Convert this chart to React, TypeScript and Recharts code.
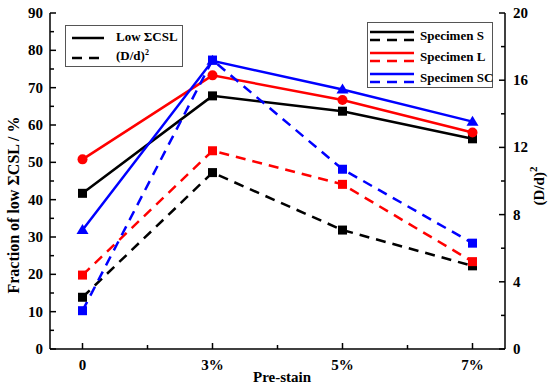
import React from 'react';
import { LineChart, Line, XAxis, YAxis } from 'recharts';

const strains = [0, 1, 2, 3];
const strainLabels = ['0', '3%', '5%', '7%'];
const xTicks = [0, 0.5, 1, 1.5, 2, 2.5, 3];
const leftTicks = [0, 5, 10, 15, 20, 25, 30, 35, 40, 45, 50, 55, 60, 65, 70, 75, 80, 85, 90];
const rightTicks = [0, 2, 4, 6, 8, 10, 12, 14, 16, 18, 20];

// fraction of low ΣCSL (%)
const cslS = [41.7, 67.8, 63.7, 56.3];
const cslL = [50.8, 73.3, 66.7, 58.0];
const cslSC = [31.9, 77.2, 69.5, 60.9];
// (D/d)^2
const ddS = [3.08, 10.5, 7.08, 4.95];
const ddL = [4.4, 11.8, 9.8, 5.2];
const ddSC = [2.28, 17.2, 10.7, 6.3];

const data = strains.map((x, i) => ({
  x,
  cslS: cslS[i],
  cslL: cslL[i],
  cslSC: cslSC[i],
  ddS: ddS[i],
  ddL: ddL[i],
  ddSC: ddSC[i],
}));

const W = 550;
const H = 387;
const AXIS_L = 50;
const AXIS_R = 505;
const TOP = 13;
const BOTTOM = 349;
const FONT = '"Liberation Serif", "Times New Roman", serif';
const BLUE = '#0000ff';
const RED = '#ff0000';
const DASH = '10 7';

const LeftTick = (props: any) => {
  const v = props.payload.value;
  const y = props.payload.coordinate;
  const major = v % 10 === 0;
  return (
    <g>
      <line x1={AXIS_L} x2={AXIS_L + (major ? 6 : 4)} y1={y} y2={y} stroke="#000" strokeWidth={1.5} />
      {major && (
        <text x={AXIS_L - 7} y={y + 5} textAnchor="end" fontSize={15} fontWeight="bold" fontFamily={FONT} fill="#000">
          {v}
        </text>
      )}
    </g>
  );
};

const RightTick = (props: any) => {
  const v = props.payload.value;
  const y = props.payload.coordinate;
  const major = v % 4 === 0;
  return (
    <g>
      <line x1={AXIS_R} x2={AXIS_R - (major ? 6 : 4)} y1={y} y2={y} stroke="#000" strokeWidth={1.5} />
      {major && (
        <text x={AXIS_R + 8} y={y + 5} textAnchor="start" fontSize={15} fontWeight="bold" fontFamily={FONT} fill="#000">
          {v}
        </text>
      )}
    </g>
  );
};

const BottomTick = (props: any) => {
  const v = props.payload.value;
  const x = props.payload.coordinate;
  const major = Number.isInteger(v);
  return (
    <g>
      <line x1={x} x2={x} y1={BOTTOM} y2={BOTTOM - (major ? 6 : 4)} stroke="#000" strokeWidth={1.5} />
      {major && (
        <text x={x} y={BOTTOM + 21} textAnchor="middle" fontSize={15} fontWeight="bold" fontFamily={FONT} fill="#000">
          {strainLabels[v]}
        </text>
      )}
    </g>
  );
};

const square = (color: string) => (p: any) =>
  <rect key={p.index} x={p.cx - 4.5} y={p.cy - 4.5} width={9} height={9} fill={color} />;
const circle = (color: string) => (p: any) =>
  <circle key={p.index} cx={p.cx} cy={p.cy} r={5} fill={color} />;
const triangle = (color: string) => (p: any) =>
  <path key={p.index} d={`M${p.cx},${p.cy - 6} L${p.cx + 6},${p.cy + 4} L${p.cx - 6},${p.cy + 4} Z`} fill={color} />;

const Sample = ({ color, dashed, w }: { color: string; dashed: boolean; w: number }) => (
  <svg width={w} height={6} style={{ display: 'block' }}>
    <line x1={0} x2={w} y1={3} y2={3} stroke={color} strokeWidth={2.5} strokeDasharray={dashed ? DASH : undefined} />
  </svg>
);

const legendText: React.CSSProperties = {
  fontFamily: FONT,
  fontWeight: 'bold',
  fontSize: 13,
  color: '#000',
  whiteSpace: 'nowrap',
};

export default function App() {
  return (
    <div style={{ position: 'absolute', left: 0, top: 0, width: W, height: H, background: '#fff' }}>
      <LineChart width={W} height={H} data={data} margin={{ top: TOP, right: 0, bottom: 0, left: 0 }}>
        <XAxis
          dataKey="x"
          type="number"
          domain={[-0.25, 3.25]}
          ticks={xTicks}
          interval={0}
          height={H - BOTTOM}
          tickLine={false}
          tick={BottomTick}
          axisLine={{ stroke: '#000', strokeWidth: 1.5 }}
        />
        <XAxis
          xAxisId="top"
          dataKey="x"
          type="number"
          domain={[-0.25, 3.25]}
          orientation="top"
          height={0}
          tick={false}
          tickLine={false}
          axisLine={{ stroke: '#000', strokeWidth: 1.5 }}
        />
        <YAxis
          yAxisId="left"
          domain={[0, 90]}
          ticks={leftTicks}
          interval={0}
          width={AXIS_L}
          tickLine={false}
          tick={LeftTick}
          axisLine={{ stroke: '#000', strokeWidth: 1.5 }}
        />
        <YAxis
          yAxisId="right"
          orientation="right"
          domain={[0, 20]}
          ticks={rightTicks}
          interval={0}
          width={W - AXIS_R}
          tickLine={false}
          tick={RightTick}
          axisLine={{ stroke: '#000', strokeWidth: 1.5 }}
        />
        <Line yAxisId="left" dataKey="cslS" stroke="#000" strokeWidth={2.5} dot={square('#000')} isAnimationActive={false} />
        <Line yAxisId="left" dataKey="cslL" stroke={RED} strokeWidth={2.5} dot={circle(RED)} isAnimationActive={false} />
        <Line yAxisId="left" dataKey="cslSC" stroke={BLUE} strokeWidth={2.5} dot={triangle(BLUE)} isAnimationActive={false} />
        <Line yAxisId="right" dataKey="ddS" stroke="#000" strokeWidth={2.5} strokeDasharray={DASH} dot={square('#000')} isAnimationActive={false} />
        <Line yAxisId="right" dataKey="ddL" stroke={RED} strokeWidth={2.5} strokeDasharray={DASH} dot={square(RED)} isAnimationActive={false} />
        <Line yAxisId="right" dataKey="ddSC" stroke={BLUE} strokeWidth={2.5} strokeDasharray={DASH} dot={square(BLUE)} isAnimationActive={false} />
        <text
          x={0}
          y={0}
          transform="translate(19, 205) rotate(-90)"
          textAnchor="middle"
          fontSize={16}
          fontWeight="bold"
          fontFamily={FONT}
        >
          Fraction of low ΣCSL / %
        </text>
        <text x={282} y={382} textAnchor="middle" fontSize={15} fontWeight="bold" fontFamily={FONT}>
          Pre-stain
        </text>
        <text
          x={0}
          y={0}
          transform="translate(544, 186) rotate(-90)"
          textAnchor="middle"
          fontSize={15}
          fontWeight="bold"
          fontFamily={FONT}
        >
          (D/d)
          <tspan dy={-7} fontSize={11}>2</tspan>
        </text>
      </LineChart>

      <div
        style={{
          position: 'absolute',
          left: 65,
          top: 25,
          width: 118,
          height: 42,
          border: '1px solid #555',
          boxSizing: 'border-box',
          background: '#fff',
        }}
      >
        <div style={{ position: 'absolute', left: 6, top: 9 }}>
          <Sample color="#000" dashed={false} w={32} />
        </div>
        <div style={{ ...legendText, position: 'absolute', left: 50, top: 3 }}>Low ΣCSL</div>
        <div style={{ position: 'absolute', left: 6, top: 29 }}>
          <Sample color="#000" dashed w={32} />
        </div>
        <div style={{ ...legendText, position: 'absolute', left: 50, top: 22 }}>
          (D/d)<sup style={{ fontSize: 8 }}>2</sup>
        </div>
      </div>

      <div
        style={{
          position: 'absolute',
          left: 367,
          top: 22,
          width: 126,
          height: 66,
          border: '1px solid #555',
          boxSizing: 'border-box',
          background: '#fff',
        }}
      >
        {[
          ['#000', 'Specimen S'],
          [RED, 'Specimen L'],
          [BLUE, 'Specimen SC'],
        ].map(([c, label], i) => (
          <React.Fragment key={label}>
            <div style={{ position: 'absolute', left: 2, top: 6 + i * 21 }}>
              <Sample color={c} dashed={false} w={44} />
            </div>
            <div style={{ position: 'absolute', left: 2, top: 14 + i * 21 }}>
              <Sample color={c} dashed w={44} />
            </div>
            <div style={{ ...legendText, position: 'absolute', left: 52, top: 5 + i * 21 }}>{label}</div>
          </React.Fragment>
        ))}
      </div>
    </div>
  );
}
